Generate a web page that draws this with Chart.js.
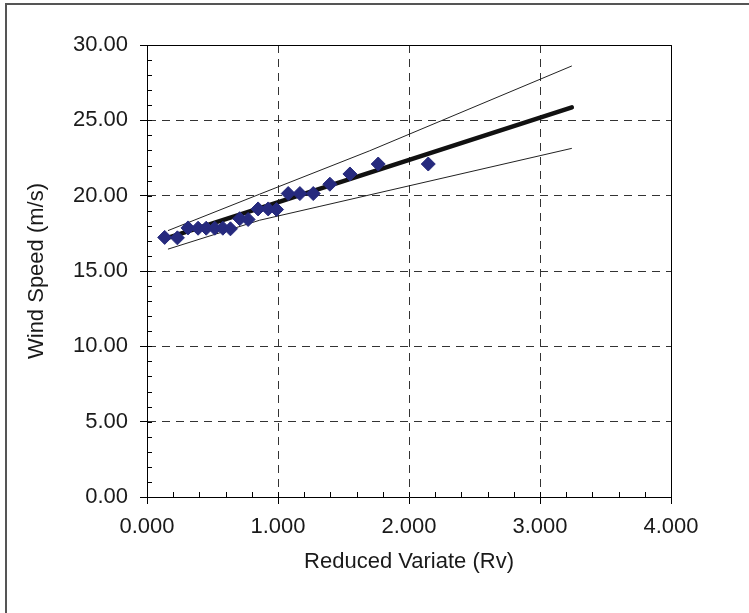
<!DOCTYPE html>
<html>
<head>
<meta charset="utf-8">
<title>Wind Speed vs Reduced Variate</title>
<script src="https://cdn.jsdelivr.net/npm/chart.js@4/dist/chart.umd.min.js"></script>
<style>
  html, body { margin: 0; padding: 0; background: #fff; }
  #wrap { width: 749px; height: 613px; position: relative; }
</style>
</head>
<body>
<div id="wrap"><canvas id="myChart" width="749" height="613"></canvas></div>
<script>
// Datos
const rvPuntos = [0.135, 0.232, 0.313, 0.390, 0.452, 0.517, 0.579, 0.637, 0.708, 0.772,
                  0.848, 0.925, 0.989, 1.078, 1.167, 1.269, 1.396, 1.549, 1.765, 2.147];
const velPuntos = [17.23, 17.20, 17.86, 17.84, 17.84, 17.84, 17.84, 17.80, 18.47, 18.42,
                   19.12, 19.12, 19.08, 20.14, 20.14, 20.14, 20.76, 21.44, 22.10, 22.10];

const rvAjuste = [0.14, 3.243];     // recta ajustada
const velAjuste = [17.15, 25.86];

const rvSup = [0.16, 0.86, 1.70, 3.243];   // limite superior
const velSup = [17.68, 20.10, 22.98, 28.61];

const rvInf = [0.16, 0.86, 1.32, 3.243];   // limite inferior
const velInf = [16.45, 18.37, 19.29, 23.14];

const ticksX = [0, 1, 2, 3, 4];
const ticksY = [0, 5, 10, 15, 20, 25, 30];

const fuente = { family: '"Liberation Sans", Arial, sans-serif', size: 22 };

const aPuntos = (xs, ys) => xs.map((x, i) => ({ x: x, y: ys[i] }));

// Borde exterior, marco del area y marcas menores
const marcos = {
  id: 'marcos',
  beforeDraw(chart) {
    const ctx = chart.ctx;
    ctx.save();
    ctx.fillStyle = '#fff';
    ctx.fillRect(0, 0, chart.width, chart.height);
    ctx.strokeStyle = '#555';
    ctx.lineWidth = 2;
    ctx.beginPath();
    ctx.moveTo(6, chart.height + 10);
    ctx.lineTo(6, 4);
    ctx.lineTo(chart.width + 10, 4);
    ctx.stroke();
    ctx.restore();
  },
  afterDraw(chart) {
    const ctx = chart.ctx;
    const a = chart.chartArea;
    const sx = chart.scales.x, sy = chart.scales.y;
    ctx.save();
    ctx.setLineDash([]);
    ctx.strokeStyle = '#000';
    ctx.lineWidth = 1;
    ctx.beginPath();
    ctx.moveTo(a.left, a.top + 0.5);
    ctx.lineTo(a.right + 0.5, a.top + 0.5);
    ctx.lineTo(a.right + 0.5, a.bottom);
    ctx.stroke();
    // marcas menores hacia dentro
    ctx.beginPath();
    for (let v = 0; v <= 30; v += 1) {
      const py = Math.round(sy.getPixelForValue(v)) + 0.5;
      ctx.moveTo(a.left, py);
      ctx.lineTo(a.left + 5, py);
    }
    for (let k = 0; k <= 20; k++) {
      const px = Math.round(sx.getPixelForValue(k * 0.2)) + 0.5;
      ctx.moveTo(px, a.bottom);
      ctx.lineTo(px, a.bottom - 5);
    }
    ctx.stroke();
    ctx.restore();
  }
};

const ctx = document.getElementById('myChart');

new Chart(ctx, {
  type: 'scatter',
  data: {
    datasets: [
      {
        label: 'Datos',
        data: aPuntos(rvPuntos, velPuntos),
        pointStyle: 'rectRot',
        pointRadius: 7,
        backgroundColor: '#262a7e',
        borderColor: '#262a7e',
        borderWidth: 1
      },
      {
        label: 'Ajuste',
        data: aPuntos(rvAjuste, velAjuste),
        showLine: true,
        pointRadius: 0,
        borderColor: '#111',
        borderWidth: 4.5,
        borderCapStyle: 'round'
      },
      {
        label: 'Superior',
        data: aPuntos(rvSup, velSup),
        showLine: true,
        pointRadius: 0,
        borderColor: '#222',
        borderWidth: 1
      },
      {
        label: 'Inferior',
        data: aPuntos(rvInf, velInf),
        showLine: true,
        pointRadius: 0,
        borderColor: '#222',
        borderWidth: 1
      }
    ]
  },
  options: {
    responsive: false,
    animation: false,
    layout: { padding: { left: 0, right: 78, top: 45, bottom: 0 } },
    plugins: {
      legend: { display: false },
      tooltip: { enabled: false }
    },
    scales: {
      x: {
        type: 'linear',
        min: 0,
        max: 4,
        afterBuildTicks: (s) => { s.ticks = ticksX.map(v => ({ value: v })); },
        afterFit: (s) => { s.height = 116; },
        ticks: {
          padding: 10,
          color: '#1a1a1a',
          font: fuente,
          callback: (v) => Number(v).toFixed(3)
        },
        grid: {
          color: '#333',
          lineWidth: 1,
          tickLength: 7,
          tickColor: '#000',
          tickBorderDash: []
        },
        border: { color: '#000', width: 1, dash: [8, 6] },
        title: {
          display: true,
          text: 'Reduced Variate (Rv)',
          color: '#1a1a1a',
          font: fuente,
          padding: { top: 0, bottom: 38 }
        }
      },
      y: {
        type: 'linear',
        min: 0,
        max: 30,
        afterBuildTicks: (s) => { s.ticks = ticksY.map(v => ({ value: v })); },
        afterFit: (s) => { s.width = 147; },
        ticks: {
          padding: 12,
          color: '#1a1a1a',
          font: fuente,
          callback: (v) => Number(v).toFixed(2)
        },
        grid: {
          color: '#333',
          lineWidth: 1,
          tickLength: 7,
          tickColor: '#000',
          tickBorderDash: []
        },
        border: { color: '#000', width: 1, dash: [8, 6] },
        title: {
          display: true,
          text: 'Wind Speed (m/s)',
          color: '#1a1a1a',
          font: fuente,
          padding: { top: 24, bottom: 0 }
        }
      }
    }
  },
  plugins: [marcos]
});
</script>
</body>
</html>
